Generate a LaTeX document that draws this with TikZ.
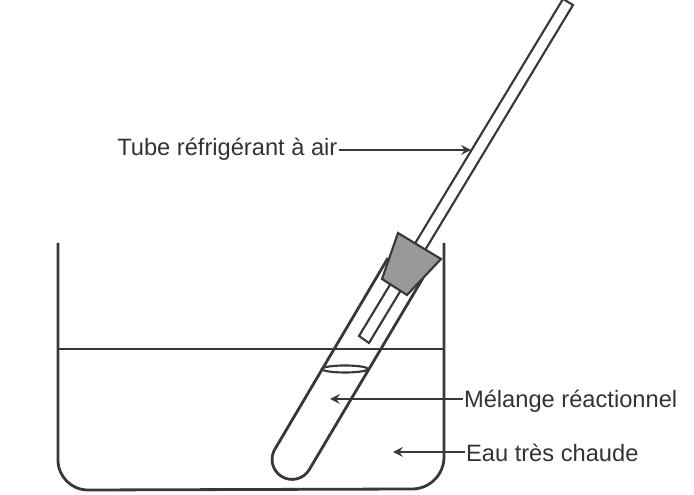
\documentclass[tikz,border=0pt]{standalone}
\usepackage{fontspec}
\setmainfont{Liberation Sans}
\begin{document}
\begin{tikzpicture}
    [x=0.75pt,y=-0.75pt,
     wall/.style={draw=black!78,line width=2.1pt},
     thin wall/.style={draw=black!78,line width=1.6pt},
     post/.style={->,>=stealth,draw=black!78,line width=2.2pt},
     lbl/.style={font=\fontsize{17.75}{22}\selectfont,text=black!80,inner sep=1pt}]
    \useasboundingbox (0,0) rectangle (694,495);
    \coordinate (airtip) at (471,150);
    \coordinate (melangetip) at (330,399);
    \coordinate (eautip) at (393,452);
    % beaker
    \draw [wall] (58,243) -- (58,460) arc (180:90:30) -- (412,489) arc (90:0:32) -- (444,243);
    \draw [wall] (58,349) -- (444,349);
    % test tube
    \draw [wall] (388,258) -- (275,449) arc (211.4:31.4:20) -- (423,278);
    \draw [thin wall,fill=white] (345,369) ellipse (23 and 3.5);
    % air condenser
    \draw [thin wall] (563,-1) -- (573,5) -- (369,343) -- (359,336) -- cycle;
    \draw [thin wall,fill=black!40] (398,233) -- (441,259) -- (407,295) -- (382,279) -- cycle;
    % labels
    \node [lbl,anchor=east] (air) at (339,149) {Tube réfrigérant à air};
    \node [lbl,anchor=west] (melange) at (462.5,401) {Mélange réactionnel};
    \node [lbl,anchor=west] (eau) at (464.5,452.5) {Eau très chaude};
    \draw [post] (air.east |- airtip) -- (airtip);
    \draw [post] (melange.west |- melangetip) -- (melangetip);
    \draw [post] (eau.west |- eautip) -- (eautip);
  \end{tikzpicture}
\end{document}
